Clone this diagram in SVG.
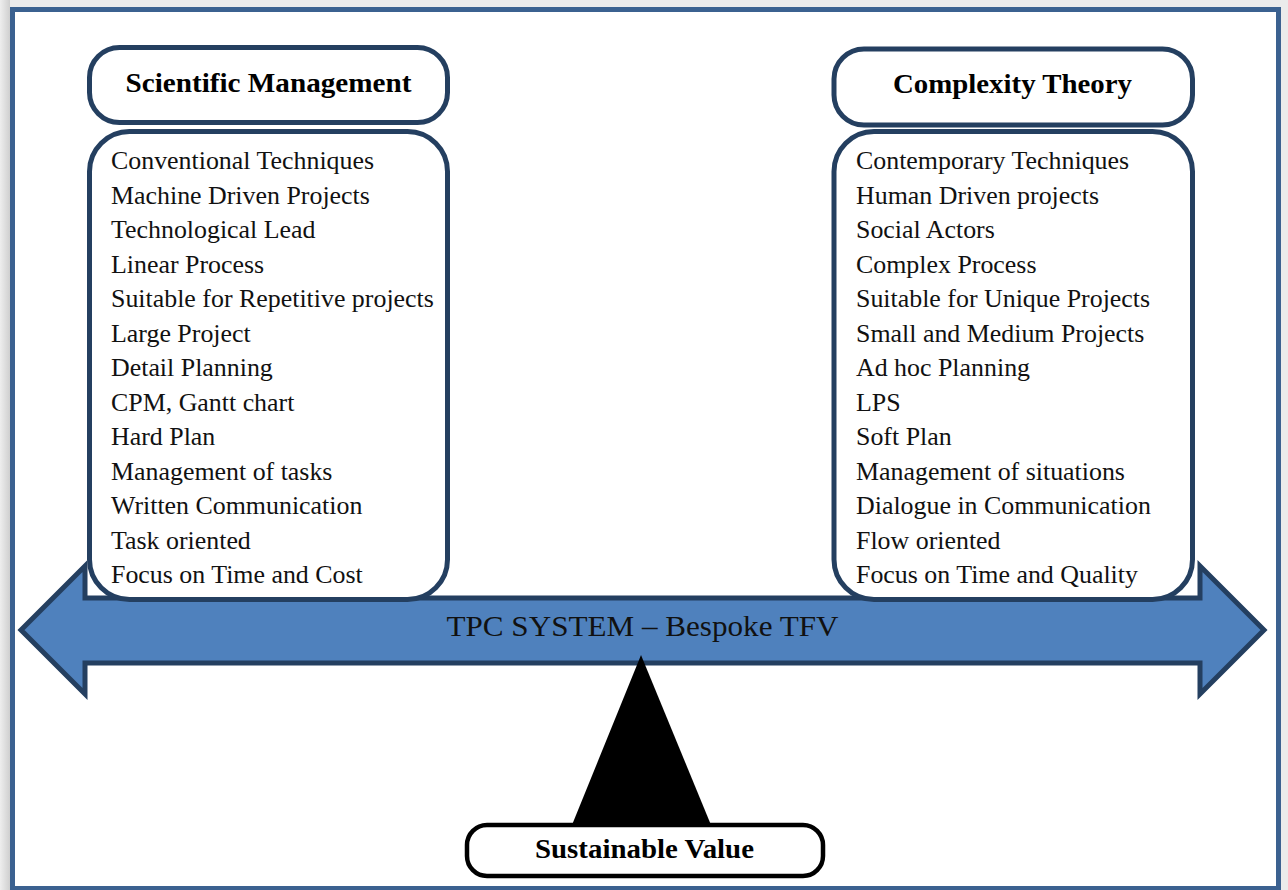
<svg xmlns="http://www.w3.org/2000/svg" width="1288" height="890" viewBox="0 0 1288 890">
  <defs>
    <linearGradient id="shadeL" x1="0" y1="0" x2="1" y2="0">
      <stop offset="0" stop-color="#eeeeee"/>
      <stop offset="1" stop-color="#cfcfcf"/>
    </linearGradient>
    <style>
      .frame { fill: #ffffff; stroke: #3b6190; stroke-width: 5; }
      .box { fill: #ffffff; stroke: #243f60; stroke-width: 5; }
      .sv { fill: #ffffff; stroke: #000000; stroke-width: 4.5; }
      .arrow { fill: #4f81bd; stroke: #243f60; stroke-width: 5; stroke-linejoin: miter; }
      .hdr { font-family: "Liberation Serif", "Times New Roman", serif; font-weight: bold; font-size: 27px; fill: #000; text-anchor: middle; }
      .item { font-family: "Liberation Serif", "Times New Roman", serif; font-size: 25.9px; fill: #111; }
      .tpc { font-family: "Liberation Serif", "Times New Roman", serif; font-size: 30px; fill: #111; text-anchor: middle; }
    </style>
  </defs>

  <rect x="0" y="0" width="1288" height="890" fill="#ebebeb"/>
  <rect x="0" y="0" width="10" height="890" fill="url(#shadeL)"/>
  <rect class="frame" x="12.5" y="9.5" width="1266" height="879"/>

  <g id="connectors">
    <polygon id="tpc-arrow" class="arrow" points="21,630 85,566 85,598 1200,598 1200,566 1264,630 1200,694 1200,663 85,663 85,694"/>
    <text class="tpc" x="642.5" y="636" textLength="392" lengthAdjust="spacingAndGlyphs">TPC SYSTEM – Bespoke TFV</text>
    <polygon id="fulcrum" points="641,655 711,825 572,825" fill="#000000"/>
  </g>

  <g id="scientific-management-header">
    <rect class="box" x="89.5" y="47.5" width="358" height="75" rx="30" ry="30"/>
    <text class="hdr" x="268.5" y="91.5" textLength="286" lengthAdjust="spacingAndGlyphs">Scientific Management</text>
  </g>

  <g id="scientific-management-list">
    <rect class="box" x="89.5" y="131.5" width="358" height="468" rx="40" ry="40"/>
    <text class="item" x="111" y="169.3">Conventional Techniques</text>
    <text class="item" x="111" y="203.8">Machine Driven Projects</text>
    <text class="item" x="111" y="238.3">Technological Lead</text>
    <text class="item" x="111" y="272.8">Linear Process</text>
    <text class="item" x="111" y="307.3">Suitable for Repetitive projects</text>
    <text class="item" x="111" y="341.8">Large Project</text>
    <text class="item" x="111" y="376.3">Detail Planning</text>
    <text class="item" x="111" y="410.8">CPM, Gantt chart</text>
    <text class="item" x="111" y="445.3">Hard Plan</text>
    <text class="item" x="111" y="479.8">Management of tasks</text>
    <text class="item" x="111" y="514.3">Written Communication</text>
    <text class="item" x="111" y="548.8">Task oriented</text>
    <text class="item" x="111" y="583.3">Focus on Time and Cost</text>
  </g>

  <g id="complexity-theory-header">
    <rect class="box" x="834" y="49" width="358.5" height="76" rx="30" ry="30"/>
    <text class="hdr" x="1012.5" y="93.3" textLength="239" lengthAdjust="spacingAndGlyphs">Complexity Theory</text>
  </g>

  <g id="complexity-theory-list">
    <rect class="box" x="834" y="131.5" width="358.5" height="468" rx="40" ry="40"/>
    <text class="item" x="856" y="169.3">Contemporary Techniques</text>
    <text class="item" x="856" y="203.8">Human Driven projects</text>
    <text class="item" x="856" y="238.3">Social Actors</text>
    <text class="item" x="856" y="272.8">Complex Process</text>
    <text class="item" x="856" y="307.3">Suitable for Unique Projects</text>
    <text class="item" x="856" y="341.8">Small and Medium Projects</text>
    <text class="item" x="856" y="376.3">Ad hoc Planning</text>
    <text class="item" x="856" y="410.8">LPS</text>
    <text class="item" x="856" y="445.3">Soft Plan</text>
    <text class="item" x="856" y="479.8">Management of situations</text>
    <text class="item" x="856" y="514.3">Dialogue in Communication</text>
    <text class="item" x="856" y="548.8">Flow oriented</text>
    <text class="item" x="856" y="583.3">Focus on Time and Quality</text>
  </g>

  <g id="sustainable-value">
    <rect class="sv" x="467" y="825" width="356" height="51" rx="20" ry="20"/>
    <text class="hdr" x="644.5" y="858" font-size="26" textLength="219" lengthAdjust="spacingAndGlyphs">Sustainable Value</text>
  </g>
</svg>
